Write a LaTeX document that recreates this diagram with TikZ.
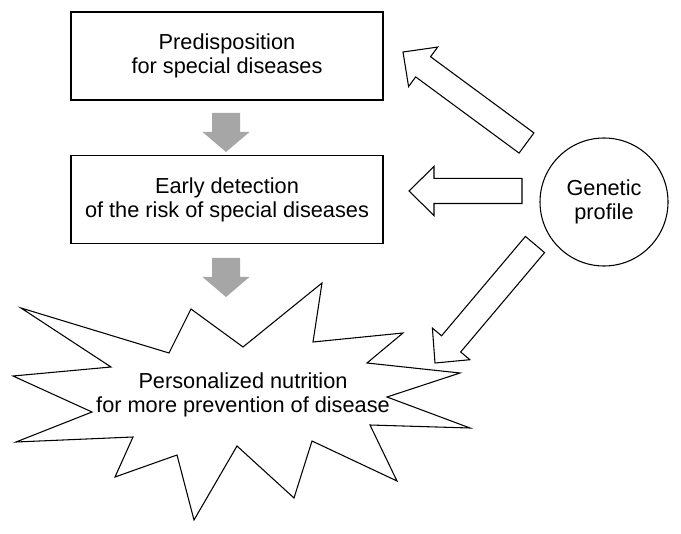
\documentclass[tikz,border=0pt]{standalone}
\usepackage{fontspec}
\setmainfont{Liberation Sans}
\usetikzlibrary{calc}
\tikzset{
  box/.style={draw,line width=0.9pt,rectangle,minimum width=234pt,minimum height=66pt,align=center},
  gene/.style={draw,line width=0.8pt,circle,minimum size=96pt,inner sep=0pt,align=center},
  hollow/.style={draw,line width=0.8pt,fill=white,line join=miter},
  solidgray/.style={fill=gray!70,draw=none},
  burst/.style={draw,line width=0.8pt,fill=white,line join=miter}
}
\begin{document}
\begin{tikzpicture}[x=0.75pt,y=-0.75pt,every node/.style={font=\fontsize{16.3}{18}\selectfont}]
    \useasboundingbox (0,0) rectangle (681,534);
    \node[box] (pre) 	at (227,56)  {Predisposition\\for special diseases};
    \node[box] (early)	at (227,199.5) {Early detection\\of the risk of special diseases};
    \node[gene] (gen)	at (604,202) {Genetic\\profile};

    \draw[burst] (21,308) -- (169,353) -- (191,309) -- (243,347) -- (322,283) -- (313,342)
      -- (403,333) -- (367,363) -- (460,373) -- (387,397) -- (470,428) -- (370,425)
      -- (397,481) -- (312,441) -- (294,498) -- (237,446) -- (194,520) -- (177,455)
      -- (115,477) -- (133,437) -- (16,442) -- (92,412) -- (13,376) -- (111,367) -- cycle;
    \node[align=center] (pers)	at (243,395) {Personalized nutrition\\for more prevention of disease};

    \coordinate (g1t) at (226,113);   \coordinate (g1h) at (226,152);
    \coordinate (g2t) at (226,258);   \coordinate (g2h) at (226,297);
    \coordinate (a1t) at (526.5,143); \coordinate (a1h) at (403,52);
    \coordinate (a2t) at (522,191);   \coordinate (a2h) at (409,191);
    \coordinate (a3t) at (535,244.5); \coordinate (a3h) at (435,363);

    \foreach \from/\to/\w/\hw/\hl/\sty in
      {g1t/g1h/10.5pt/17.6pt/15pt/solidgray,g2t/g2h/10.5pt/17.6pt/15pt/solidgray,
       a1t/a1h/9.4pt/18.4pt/18.75pt/hollow,a2t/a2h/9.4pt/18.4pt/18.75pt/hollow,a3t/a3h/9.4pt/18.4pt/18.75pt/hollow}
    {
    \coordinate (hb) at ($(\to)!\hl!(\from)$);
    \path[\sty] ($(\from)!\w!90:(\to)$) -- ($(hb)!\w!90:(\to)$) -- ($(hb)!\hw!90:(\to)$) -- (\to)
      -- ($(hb)!\hw!-90:(\to)$) -- ($(hb)!\w!-90:(\to)$) -- ($(\from)!\w!-90:(\to)$) -- cycle;
    }
  \end{tikzpicture}
\end{document}
